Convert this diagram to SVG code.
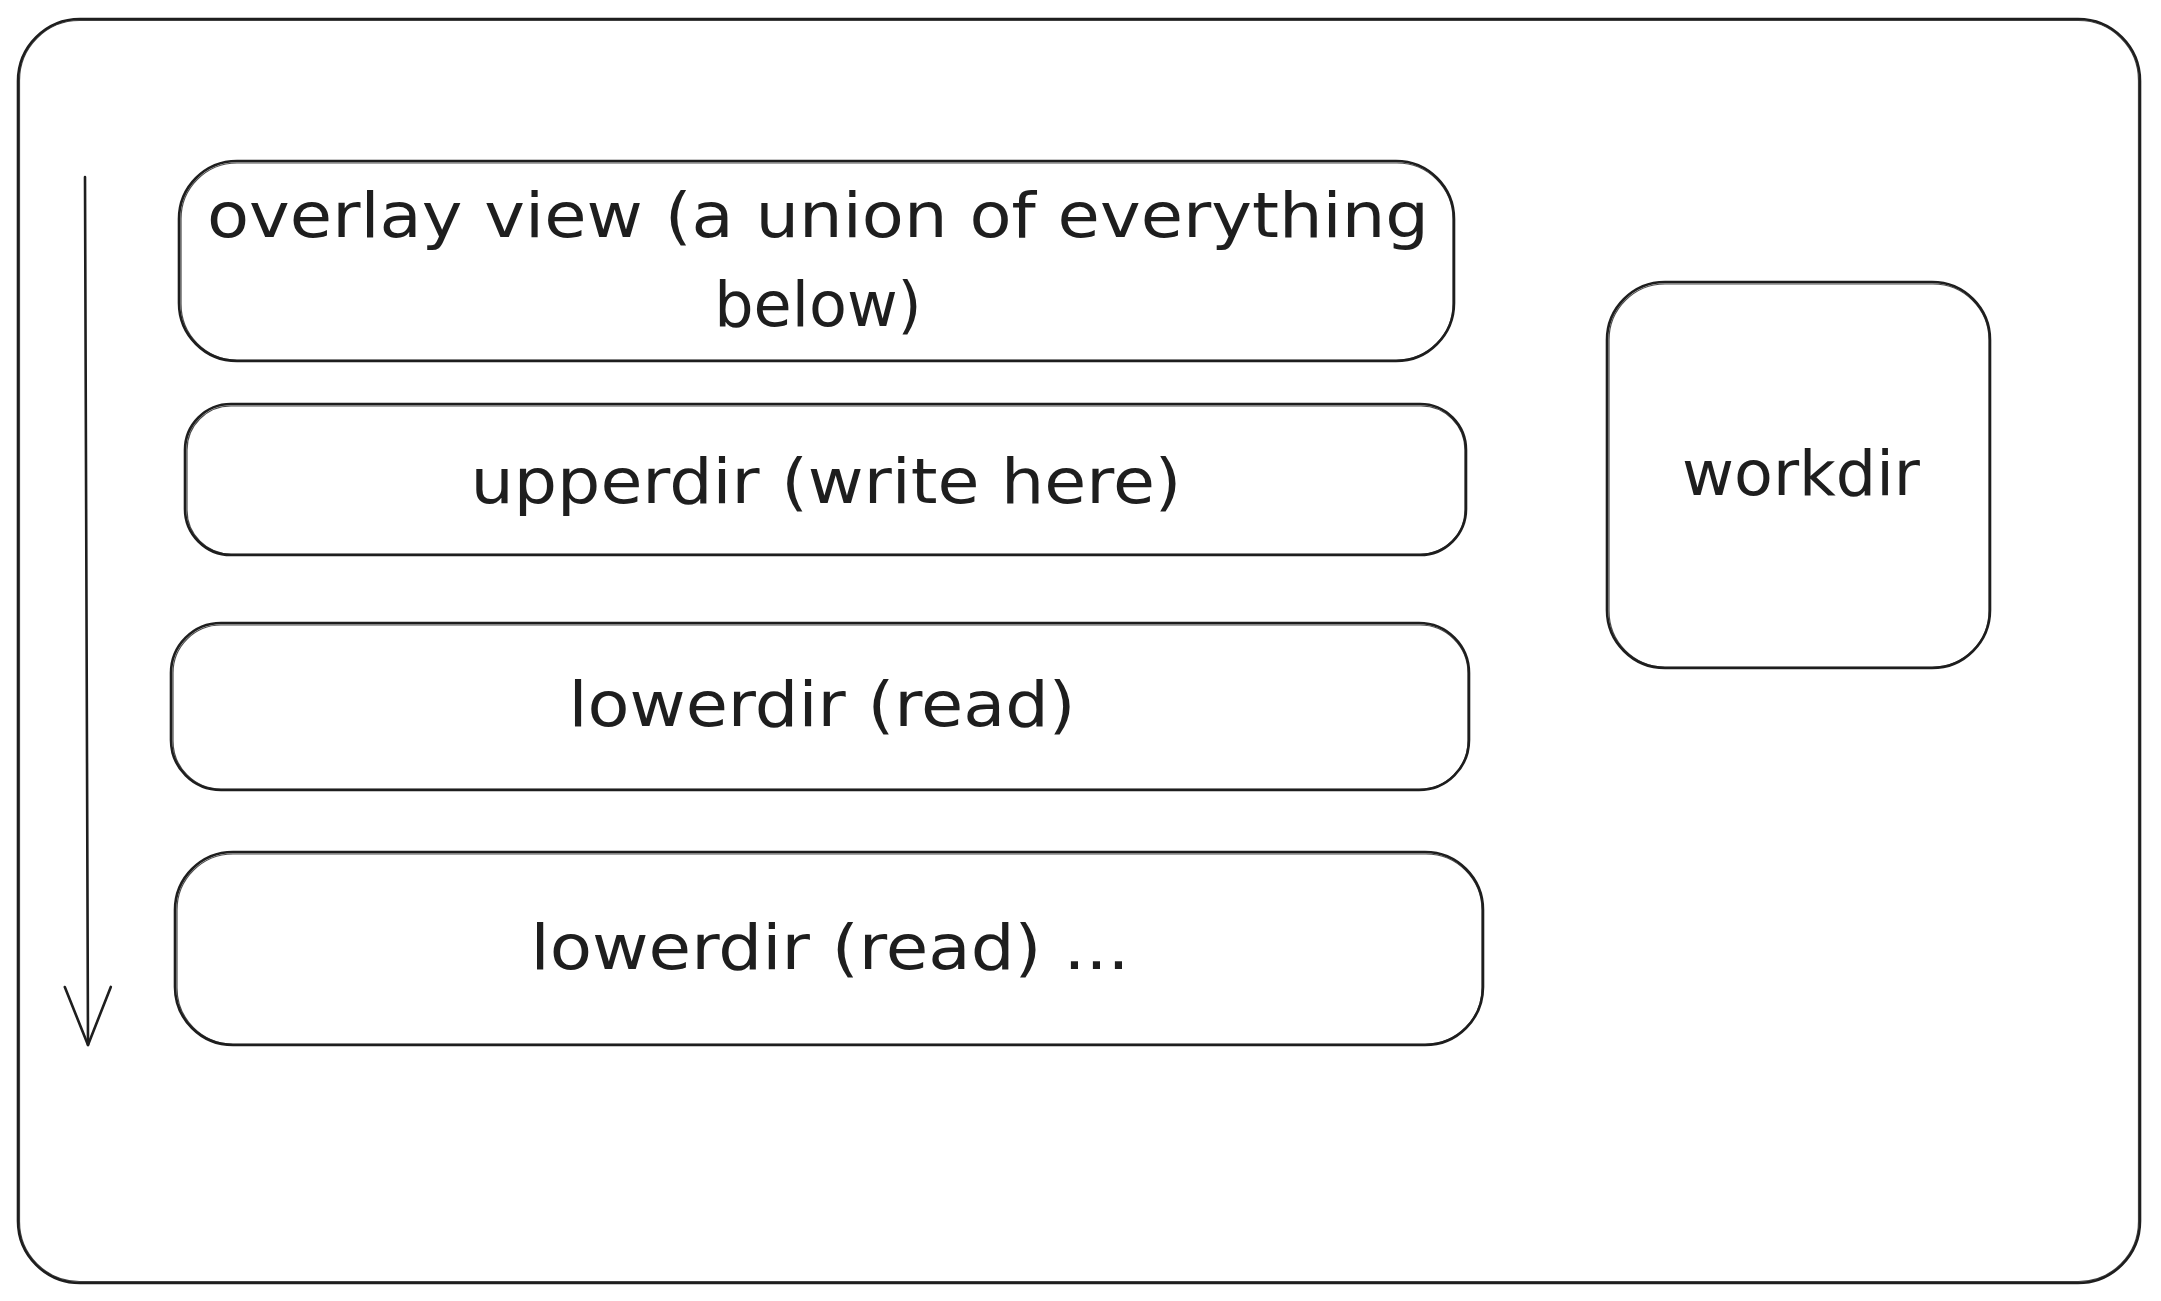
<svg xmlns="http://www.w3.org/2000/svg" width="2161" height="1301" viewBox="0 0 2161 1301">
<style>
.box{fill:none;stroke:#1e1e1e;stroke-width:2.6;stroke-linejoin:round}
.box2{fill:none;stroke:#1e1e1e;stroke-width:1.2;opacity:0.8}
.lbl{font-family:"DejaVu Sans","Liberation Sans",sans-serif;font-size:62px;fill:#1e1e1e;text-anchor:middle}
.conn{fill:none;stroke:#1e1e1e;stroke-width:2.6;stroke-linecap:round}
</style>
<defs>
<marker id="vhead" markerUnits="userSpaceOnUse" markerWidth="140" markerHeight="140" refX="0" refY="0" viewBox="-70 -70 140 140" orient="auto" overflow="visible">
<path d="M -58 -23 L 0 0 L -58 23" fill="none" stroke="#1e1e1e" stroke-width="2.6" stroke-linecap="round" stroke-linejoin="round"/>
</marker>
</defs>
<rect width="2161" height="1301" fill="#ffffff"/>
<g id="frame">
<rect class="box" x="18" y="19" width="2122" height="1264" rx="62" ry="62"/>
<rect class="box2" x="19.5" y="20.5" width="2119" height="1261" rx="60" ry="60"/>
</g>
<g id="connectors">
<path class="conn" d="M 85 177 L 88 1045" marker-end="url(#vhead)"/>
</g>
<g id="overlay">
<rect class="box" x="179" y="161" width="1275" height="200" rx="58" ry="58"/>
<rect class="box2" x="181" y="163" width="1272" height="197" rx="56" ry="56"/>
<text class="lbl" x="818" y="237" textLength="1222" lengthAdjust="spacingAndGlyphs">overlay view (a union of everything</text>
<text class="lbl" x="818" y="326">below)</text>
</g>
<g id="upperdir">
<rect class="box" x="185" y="404" width="1281" height="151" rx="46" ry="46"/>
<rect class="box2" x="187" y="406" width="1278" height="148" rx="44" ry="44"/>
<text class="lbl" x="826" y="503" textLength="711" lengthAdjust="spacingAndGlyphs">upperdir (write here)</text>
</g>
<g id="lowerdir1">
<rect class="box" x="171" y="623" width="1298" height="167" rx="50" ry="50"/>
<rect class="box2" x="173" y="625" width="1295" height="164" rx="48" ry="48"/>
<text class="lbl" x="822" y="726" textLength="507" lengthAdjust="spacingAndGlyphs">lowerdir (read)</text>
</g>
<g id="lowerdir2">
<rect class="box" x="175" y="852" width="1308" height="193" rx="58" ry="58"/>
<rect class="box2" x="177" y="854" width="1305" height="190" rx="56" ry="56"/>
<text class="lbl" x="830" y="969" textLength="599" lengthAdjust="spacingAndGlyphs">lowerdir (read) ...</text>
</g>
<g id="workdir">
<rect class="box" x="1607" y="282" width="383" height="386" rx="58" ry="58"/>
<rect class="box2" x="1609" y="284" width="380" height="383" rx="56" ry="56"/>
<text class="lbl" x="1801" y="495" textLength="238" lengthAdjust="spacingAndGlyphs">workdir</text>
</g>
</svg>
